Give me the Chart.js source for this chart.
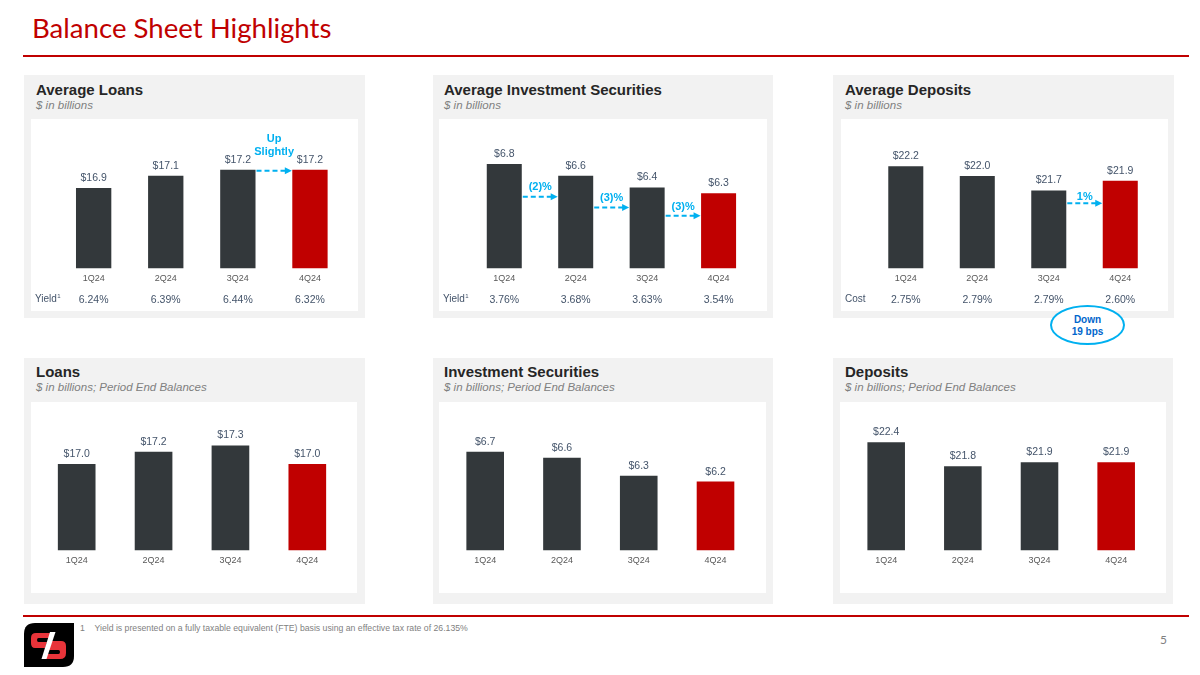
<!DOCTYPE html>
<html>
<head>
<meta charset="utf-8">
<script src="https://cdn.jsdelivr.net/npm/chart.js@4.4.1/dist/chart.umd.min.js"></script>
<style>
  html, body { margin: 0; padding: 0; background: #fff; }
  body { width: 1200px; height: 675px; position: relative; overflow: hidden; font-family: "Liberation Sans", Arial, sans-serif; }
  .abs { position: absolute; }
  .title { left: 32px; top: 11.4px; font-family: Lato, sans-serif; font-size: 27.6px; line-height: normal; color: #c00000; white-space: nowrap; }
  .rule { left: 23px; width: 1166px; height: 2px; background: #c00000; }
  .panel { background: #f2f2f2; }
  .ptitle { font-weight: bold; font-size: 15px; line-height: 17px; color: #262626; white-space: nowrap; }
  .psub { font-style: italic; font-size: 11.5px; line-height: 13px; color: #808080; white-space: nowrap; }
  canvas { position: absolute; background: #fff; }
  .bubble { left: 1050px; top: 305px; width: 75px; height: 40px; box-sizing: border-box; border: 2px solid #00b0f0; border-radius: 50%; background: #fff;
            font-weight: bold; font-size: 10px; line-height: 11.7px; color: #0066cc; text-align: center; padding-top: 7px; }
  .foot { left: 80px; top: 622.5px; font-size: 8.7px; color: #7f7f7f; white-space: nowrap; }
  .page { left: 1160px; top: 632px; font-family: Lato, sans-serif; font-size: 12px; color: #808080; }
</style>
</head>
<body>

<div class="abs title">Balance Sheet Highlights</div>
<div class="abs rule" style="top:55px"></div>

<!-- top row -->
<div class="abs panel" style="left:24px;top:75px;width:341px;height:243px"></div>
<div class="abs panel" style="left:433px;top:75px;width:340px;height:243px"></div>
<div class="abs panel" style="left:833px;top:75px;width:341px;height:243px"></div>
<div class="abs ptitle" style="left:36px;top:81px">Average Loans</div>
<div class="abs psub" style="left:36px;top:98.5px">$ in billions</div>
<div class="abs ptitle" style="left:444px;top:81px">Average Investment Securities</div>
<div class="abs psub" style="left:444px;top:98.5px">$ in billions</div>
<div class="abs ptitle" style="left:845px;top:81px">Average Deposits</div>
<div class="abs psub" style="left:845px;top:98.5px">$ in billions</div>
<canvas id="avgLoansChart" width="327" height="192" style="left:31px;top:119px"></canvas>
<canvas id="avgSecChart" width="328" height="192" style="left:439px;top:119px"></canvas>
<canvas id="avgDepChart" width="327" height="192" style="left:841px;top:119px"></canvas>

<!-- bottom row -->
<div class="abs panel" style="left:24px;top:358px;width:341px;height:246px"></div>
<div class="abs panel" style="left:433px;top:358px;width:340px;height:246px"></div>
<div class="abs panel" style="left:833px;top:358px;width:340px;height:246px"></div>
<div class="abs ptitle" style="left:36px;top:363px">Loans</div>
<div class="abs psub" style="left:36px;top:381px">$ in billions; Period End Balances</div>
<div class="abs ptitle" style="left:444px;top:363px">Investment Securities</div>
<div class="abs psub" style="left:444px;top:381px">$ in billions; Period End Balances</div>
<div class="abs ptitle" style="left:845px;top:363px">Deposits</div>
<div class="abs psub" style="left:845px;top:381px">$ in billions; Period End Balances</div>
<canvas id="endLoansChart" width="326" height="191" style="left:31px;top:402px"></canvas>
<canvas id="endSecChart" width="327" height="191" style="left:439px;top:402px"></canvas>
<canvas id="endDepChart" width="326" height="191" style="left:840px;top:402px"></canvas>

<div class="abs bubble">Down<br>19 bps</div>

<div class="abs rule" style="top:614.5px"></div>
<div class="abs foot">1&nbsp;&nbsp;&nbsp;&nbsp;Yield is presented on a fully taxable equivalent (FTE) basis using an effective tax rate of 26.135%</div>
<div class="abs page">5</div>

<svg class="abs" style="left:24px;top:623px" width="50" height="44" viewBox="0 0 50 44">
  <path d="M11,0 H50 V33 Q50,44 39,44 H0 V11 Q0,0 11,0 Z" fill="#000"/>
  <path d="M12,10 H29 L27,15 H14.5 Q13,15 13,17 Q13,19 14.5,19 H23 L21,25 H11 Q7,25 7,20 V15 Q7,10 12,10 Z" fill="#e8343a"/>
  <path d="M27,18 H37 Q42,18 42,23 V30 Q42,36 36,36 H19 L21,31 H34.5 Q36,31 36,29 Q36,27 34.5,27 H24.5 Z" fill="#e8343a"/>
  <path d="M26,9 H31.5 L22.5,36 H17.5 Z" fill="#fff"/>
</svg>

<script>
// categories
const quarters = ['1Q24', '2Q24', '3Q24', '4Q24'];

// averages ($ in billions) and rates (%)
const avgLoans = [16.9, 17.1, 17.2, 17.2];
const avgLoanYield = [6.24, 6.39, 6.44, 6.32];
const avgSecurities = [6.8, 6.6, 6.4, 6.3];
const avgSecurityYield = [3.76, 3.68, 3.63, 3.54];
const avgDeposits = [22.2, 22.0, 21.7, 21.9];
const avgDepositCost = [2.75, 2.79, 2.79, 2.60];

// period end balances ($ in billions)
const endLoans = [17.0, 17.2, 17.3, 17.0];
const endSecurities = [6.7, 6.6, 6.3, 6.2];
const endDeposits = [22.4, 21.8, 21.9, 21.9];

// change callouts
const loanChange = [['Up', 'Slightly']];
const securityChange = [['(2)%'], ['(3)%'], ['(3)%']];
const depositChange = [['1%']];

const barColors = ['#33383b', '#33383b', '#33383b', '#c00000'];
const cyan = '#00b0f0';
const font = '"Liberation Sans", Arial, sans-serif';

// labels, rate row and dashed change arrows
const slidePlugin = {
    id: 'slide',
    afterDatasetsDraw(chart, args, opts) {
        const ctx = chart.ctx;
        const x = chart.scales.x;
        const area = chart.chartArea;
        const meta = chart.getDatasetMeta(0);
        const vals = chart.data.datasets[0].data;
        ctx.save();
        ctx.textAlign = 'center';
        ctx.textBaseline = 'middle';

        ctx.font = '10.5px ' + font;
        ctx.fillStyle = '#44546a';
        meta.data.forEach((bar, i) => {
            ctx.fillText('$' + vals[i].toFixed(1), bar.x, bar.y - 10);
        });

        ctx.font = '9px ' + font;
        ctx.fillStyle = '#595959';
        chart.data.labels.forEach((lab, i) => {
            ctx.fillText(lab, x.getPixelForValue(i), area.bottom + 10.5);
        });

        if (opts.rates) {
            const ry = area.bottom + 32;
            ctx.fillStyle = '#44546a';
            ctx.font = '10.5px ' + font;
            opts.rates.forEach((r, i) => {
                ctx.fillText(r.toFixed(2) + '%', x.getPixelForValue(i), ry);
            });
            ctx.textAlign = 'left';
            ctx.font = '10px ' + font;
            ctx.fillText(opts.rateLabel, 4, ry - 1);
            if (opts.rateNote) {
                const w = ctx.measureText(opts.rateLabel).width;
                ctx.font = '6px ' + font;
                ctx.fillText(opts.rateNote, 4 + w + 0.5, ry - 4.5);
            }
            ctx.textAlign = 'center';
        }

        (opts.arrows || []).forEach((a, k) => {
            const b0 = meta.data[a.from];
            const b1 = meta.data[a.to];
            const x0 = b0.x + b0.width / 2 + 1;
            const x1 = b1.x - b1.width / 2 - 0.5;
            const yy = b1.y + a.dy;
            ctx.strokeStyle = cyan;
            ctx.lineWidth = 2;
            ctx.setLineDash([5, 3]);
            ctx.beginPath();
            ctx.moveTo(x0, yy);
            ctx.lineTo(x1 - 6, yy);
            ctx.stroke();
            ctx.setLineDash([]);
            ctx.fillStyle = cyan;
            ctx.beginPath();
            ctx.moveTo(x1, yy);
            ctx.lineTo(x1 - 7, yy - 3.5);
            ctx.lineTo(x1 - 7, yy + 3.5);
            ctx.closePath();
            ctx.fill();
            ctx.font = 'bold 11px ' + font;
            const lines = opts.texts[k];
            lines.forEach((t, j) => {
                ctx.fillText(t, (x0 + x1) / 2, yy + a.labelDy - (lines.length - 1 - j) * 13.3);
            });
        });
        ctx.restore();
    }
};

function makeChart(id, values, pad, yMin, yMax, extra) {
    return new Chart(document.getElementById(id), {
        type: 'bar',
        data: {
            labels: quarters,
            datasets: [{
                data: values,
                base: yMin,
                backgroundColor: barColors,
                borderWidth: 0,
                barPercentage: 0.49,
                categoryPercentage: 1
            }]
        },
        options: {
            responsive: false,
            animation: false,
            layout: { padding: pad },
            scales: {
                x: { display: false },
                y: { display: false, min: yMin, max: yMax }
            },
            plugins: {
                legend: { display: false },
                tooltip: { enabled: false },
                slide: extra
            }
        },
        plugins: [slidePlugin]
    });
}

makeChart('avgLoansChart', avgLoans, { left: 26.6, right: 12, top: 10, bottom: 42.5 }, 15.588, 17.864, {
    rates: avgLoanYield, rateLabel: 'Yield', rateNote: '1',
    texts: loanChange, arrows: [{ from: 2, to: 3, dy: 1, labelDy: -18.4 }]
});
makeChart('avgSecChart', avgSecurities, { left: 29.55, right: 12.7, top: 10, bottom: 42.5 }, 5.012, 7.401, {
    rates: avgSecurityYield, rateLabel: 'Yield', rateNote: '1',
    texts: securityChange,
    arrows: [
        { from: 0, to: 1, dy: 21, labelDy: -9.4 },
        { from: 1, to: 2, dy: 20, labelDy: -9 },
        { from: 2, to: 3, dy: 22.5, labelDy: -9 }
    ]
});
makeChart('avgDepChart', avgDeposits, { left: 29.05, right: 12, top: 10, bottom: 42.5 }, 20.08, 22.974, {
    rates: avgDepositCost, rateLabel: 'Cost',
    texts: depositChange, arrows: [{ from: 2, to: 3, dy: 22.5, labelDy: -6.6 }]
});
makeChart('endLoansChart', endLoans, { left: 7.25, right: 11.25, top: 9, bottom: 42.5 }, 15.603, 17.857, {});
makeChart('endSecChart', endSecurities, { left: 7.8, right: 12.1, top: 9, bottom: 42.5 }, 5.042, 7.387, {});
makeChart('endDepChart', endDeposits, { left: 7.85, right: 11.5, top: 9, bottom: 42.5 }, 19.699, 23.178, {});
</script>
</body>
</html>
